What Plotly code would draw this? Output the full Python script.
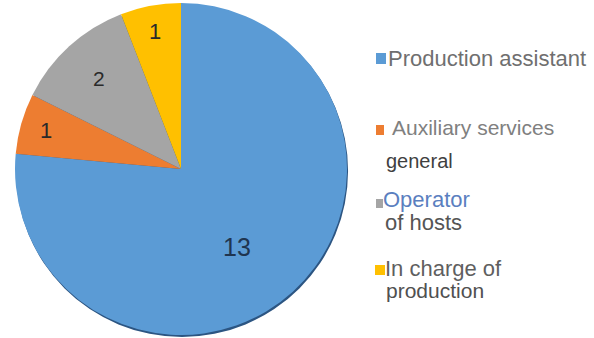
import plotly.graph_objects as go

categories = ["Production assistant", "Auxiliary services general", "Operator of hosts", "In charge of production"]
values = [13, 1, 2, 1]
colors = ["#5b9bd5", "#ed7d31", "#a5a5a5", "#ffc000"]
label_colors = ["#1f3550", "#2a2a2a", "#2a2a2a", "#2a2a2a"]
label_sizes = [25, 22, 21, 22]
label_templates = ["\u00a0<br>%{value}", "%{value}", "%{value}", "%{value}"]

# legend text lines: (text, x_px, baseline_px, size, color)
legend_lines = [
    ("Production assistant", 388, 66, 22, "#6f6f6f"),
    ("Auxiliary services", 392, 135, 21, "#808080"),
    ("general", 386, 168, 20, "#3f3f3f"),
    ("Operator", 383, 207, 22, "#5b7fbf"),
    ("of hosts", 385, 230, 22, "#555555"),
    ("In charge of", 385, 276, 22, "#5f5f5f"),
    ("production", 386, 298, 21, "#505050"),
]
legend_keys = [(376, 53, 386, 64), (376, 125, 384, 135), (376, 199, 383, 208), (375, 265, 385, 275)]

W, H = 594, 338
cx, cy, r = 181, 169, 166

def px(x):
    return min(max(x / W, 0), 1)

def py(y):
    return min(max(1 - y / H, 0), 1)

fig = go.Figure()
# shadow
fig.add_trace(go.Pie(
    values=[1], marker=dict(colors=["#2c5582"], line=dict(width=0)),
    domain=dict(x=[px(cx - r + 1), px(cx + r + 1)], y=[py(cy + r + 2), py(cy - r + 2)]),
    textinfo="none", hoverinfo="skip", showlegend=False, sort=False,
))
fig.add_trace(go.Pie(
    labels=categories, values=values, sort=False, direction="clockwise", rotation=0,
    marker=dict(colors=colors, line=dict(width=0)),
    texttemplate=label_templates, textposition="inside", insidetextorientation="horizontal",
    textfont=dict(family="Liberation Sans, Arial", size=label_sizes, color=label_colors),
    domain=dict(x=[px(cx - r), px(cx + r)], y=[py(cy + r), py(cy - r)]),
    showlegend=False,
))

for text, x, base, size, col in legend_lines:
    fig.add_annotation(
        x=px(x), y=py(base - 0.36 * size), xref="paper", yref="paper",
        xanchor="left", yanchor="middle", text=text, showarrow=False,
        font=dict(family="Liberation Sans, Arial", size=size, color=col),
        xshift=-2,
    )

for (x0, y0, x1, y1), c in zip(legend_keys, colors):
    fig.add_shape(type="rect", xref="paper", yref="paper",
                  x0=px(x0), x1=px(x1), y0=py(y1), y1=py(y0),
                  fillcolor=c, line=dict(width=0))

fig.update_layout(
    width=W, height=H, margin=dict(l=0, r=0, t=0, b=0),
    paper_bgcolor="white", plot_bgcolor="white",
)
fig.write_html("out.html")
